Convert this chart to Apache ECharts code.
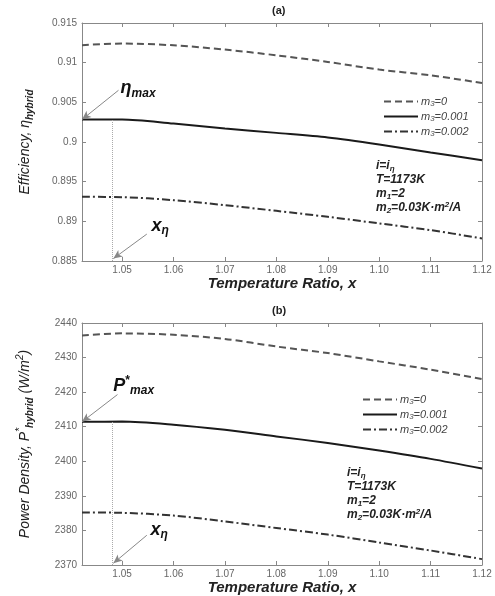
<!DOCTYPE html>
<html>
<head>
<meta charset="utf-8">
<script src="https://cdn.jsdelivr.net/npm/echarts@6/dist/echarts.min.js"></script>
<style>
  html, body { margin: 0; padding: 0; background: #fff; }
  #chart { width: 495px; height: 596px; }
</style>
</head>
<body>
<div id="chart"></div>
<script>
// temperature ratio x
var ratio = [1.0422, 1.05, 1.06, 1.07, 1.08, 1.09, 1.10, 1.11, 1.12];
var xTicks = [1.05, 1.06, 1.07, 1.08, 1.09, 1.10, 1.11, 1.12];
var names = ['m3=0', 'm3=0.001', 'm3=0.002'];

// (a) efficiency
var effM0 = [0.9122, 0.91241, 0.91219, 0.91165, 0.91093, 0.91009, 0.90913, 0.90841, 0.90744];
var effM1 = [0.90283, 0.90285, 0.90233, 0.90170, 0.90115, 0.90057, 0.89969, 0.89868, 0.89771];
var effM2 = [0.89309, 0.89305, 0.89267, 0.89204, 0.89132, 0.89057, 0.88974, 0.88889, 0.88785];

// (b) power density, W/m2
var pdM0 = [2436.4, 2437.0, 2436.6, 2435.4, 2433.2, 2431.3, 2428.9, 2426.5, 2423.8];
var pdM1 = [2411.4, 2411.5, 2410.6, 2409.1, 2407.2, 2405.3, 2403.1, 2400.7, 2397.9];
var pdM2 = [2385.2, 2385.1, 2384.3, 2382.6, 2380.7, 2378.8, 2376.5, 2374.2, 2371.7];

var xEta = 1.048;

// annotation anchors [x, y] in data units
var etaMaxText = [1.0497, 0.90678], etaMaxArrow = [[1.0493, 0.90652], [1.0422, 0.90283]];
var xEtaTextA = [1.0557, 0.88940], xEtaArrowA = [[1.0548, 0.88839], [1.0483, 0.8853]];
var pMaxText = [1.0483, 2421.9], pMaxArrow = [[1.0491, 2419.3], [1.0422, 2411.4]];
var xEtaTextB = [1.0555, 2380.1], xEtaArrowB = [[1.0548, 2378.6], [1.0483, 2370.5]];

var font = 'Liberation Sans, Arial, sans-serif';
var colors = ['#555', '#1a1a1a', '#333'];
var dashes = [[7, 4], 'solid', [8, 3, 2, 3]];

var chart = echarts.init(document.getElementById('chart'));

function pairs(ys) {
  return ratio.map(function (x, i) { return [x, ys[i]]; });
}

function xAxisFor(grid, top) {
  return {
    type: 'value', gridIndex: grid, position: top ? 'top' : 'bottom',
    min: 1.0422, max: 1.12,
    axisLine: { lineStyle: { color: '#888' } },
    axisTick: { inside: true, length: 4, customValues: xTicks, lineStyle: { color: '#888' } },
    axisLabel: top ? { show: false } : {
      customValues: xTicks, color: '#666', fontSize: 10, fontFamily: font, margin: 4,
      formatter: function (v) { return v.toFixed(2); }
    },
    splitLine: { show: false },
    name: top ? '' : 'Temperature Ratio, x',
    nameLocation: 'middle', nameGap: 14,
    nameTextStyle: { fontSize: 15, fontWeight: 'bold', fontStyle: 'italic', color: '#222', fontFamily: font }
  };
}

var nameRich = {
  n: { fontSize: 14, fontStyle: 'italic', color: '#222', fontFamily: font, lineHeight: 20 },
  s: { fontSize: 10, fontStyle: 'italic', fontWeight: 'bold', color: '#222', fontFamily: font, lineHeight: 10, verticalAlign: 'bottom' },
  p: { fontSize: 10, fontStyle: 'italic', color: '#222', fontFamily: font, lineHeight: 10, verticalAlign: 'top' }
};

function yAxisFor(grid, min, max, step, right, name) {
  return {
    type: 'value', gridIndex: grid, position: right ? 'right' : 'left',
    min: min, max: max, interval: step,
    axisLine: { show: true, lineStyle: { color: '#888' } },
    axisTick: { show: true, inside: true, length: 4, lineStyle: { color: '#888' } },
    axisLabel: right ? { show: false } : {
      color: '#666', fontSize: 10, fontFamily: font, margin: 5,
      formatter: function (v) { return String(v); }
    },
    splitLine: { show: false },
    name: right ? '' : name,
    nameLocation: 'middle', nameRotate: 90, nameGap: 47,
    nameTextStyle: { rich: nameRich }
  };
}

function lineSeries(k, grid, ys) {
  return {
    name: names[k], type: 'line', xAxisIndex: grid * 2, yAxisIndex: grid * 2,
    data: pairs(ys), smooth: 0.3, symbol: 'none',
    lineStyle: { color: colors[k], width: 2, type: dashes[k] },
    itemStyle: { color: colors[k] },
    z: 3
  };
}

var markRich = {
  g: { fontSize: 18, fontStyle: 'italic', fontWeight: 'bold', color: '#111', fontFamily: font, lineHeight: 22 },
  s: { fontSize: 12, fontStyle: 'italic', fontWeight: 'bold', color: '#111', fontFamily: font, lineHeight: 12, verticalAlign: 'bottom' },
  p: { fontSize: 12, fontWeight: 'bold', color: '#111', fontFamily: font, lineHeight: 12, verticalAlign: 'top' }
};

function annotate(series, yMin, solidAtEta, textMax, arrowMax, maxLabel, textX, arrowX) {
  series.markLine = {
    silent: true, symbol: ['none', 'arrow'], symbolSize: [6, 9],
    label: { show: false },
    data: [
      [{ coord: [xEta, yMin], symbol: 'none', lineStyle: { color: '#aaa', type: 'dotted', width: 1 } },
       { coord: [xEta, solidAtEta], symbol: 'none' }],
      [{ coord: arrowMax[0], lineStyle: { color: '#888', type: 'solid', width: 1 } }, { coord: arrowMax[1] }],
      [{ coord: arrowX[0], lineStyle: { color: '#888', type: 'solid', width: 1 } }, { coord: arrowX[1] }]
    ]
  };
  series.markPoint = {
    silent: true, symbol: 'circle', symbolSize: 0,
    label: { show: true, position: 'right', distance: 0, rich: markRich },
    data: [
      { coord: textMax, label: { formatter: maxLabel } },
      { coord: textX, label: { formatter: '{g|x}{s|η}' } }
    ]
  };
  return series;
}

var legendRich = {
  t: { fontSize: 11, fontStyle: 'italic', color: '#444', fontFamily: font, lineHeight: 13 },
  s: { fontSize: 8, fontStyle: 'italic', color: '#444', fontFamily: font, lineHeight: 8, verticalAlign: 'bottom' }
};

function legendAt(left, top) {
  return {
    data: names, orient: 'vertical', left: left, top: top,
    itemWidth: 34, itemHeight: 10, itemGap: 3,
    itemStyle: { opacity: 0 },
    textStyle: { rich: legendRich, padding: [0, 0, 0, -2] },
    formatter: function (n) { return '{t|m}{s|3}{t|=' + n.split('=')[1] + '}'; }
  };
}

var paramRich = {
  b: { fontSize: 12, fontStyle: 'italic', fontWeight: 'bold', fill: '#222', fontFamily: font, lineHeight: 14 },
  s: { fontSize: 8, fontStyle: 'italic', fontWeight: 'bold', fill: '#222', fontFamily: font, lineHeight: 8, verticalAlign: 'bottom' },
  p: { fontSize: 8, fontStyle: 'italic', fontWeight: 'bold', fill: '#222', fontFamily: font, lineHeight: 8, verticalAlign: 'top' }
};
var paramText = '{b|i=i}{s|η}\n{b|T=1173K}\n{b|m}{s|1}{b|=2}\n{b|m}{s|2}{b|=0.03K·m}{p|2}{b|/A}';

var option = {
  animation: false,
  backgroundColor: '#fff',
  grid: [
    { left: 82, right: 13, top: 23, height: 238 },
    { left: 82, right: 13, top: 323, height: 242 }
  ],
  xAxis: [xAxisFor(0, false), xAxisFor(0, true), xAxisFor(1, false), xAxisFor(1, true)],
  yAxis: [
    yAxisFor(0, 0.885, 0.915, 0.005, false, '{n|Efficiency, }{n|η}{s|hybrid}'),
    yAxisFor(0, 0.885, 0.915, 0.005, true, ''),
    yAxisFor(1, 2370, 2440, 10, false, '{n|Power Density, P}{p|*}{s|hybrid}{n| (W/m}{p|2}{n|)}'),
    yAxisFor(1, 2370, 2440, 10, true, '')
  ],
  legend: [legendAt(378, 91), legendAt(357, 389)],
  graphic: [
    { type: 'text', left: 272, top: 5, style: { text: '(a)', font: 'bold 11px ' + font, fill: '#222' } },
    { type: 'text', left: 272, top: 305, style: { text: '(b)', font: 'bold 11px ' + font, fill: '#222' } },
    { type: 'text', left: 376, top: 160, style: { text: paramText, rich: paramRich } },
    { type: 'text', left: 347, top: 467, style: { text: paramText, rich: paramRich } }
  ],
  series: [
    lineSeries(0, 0, effM0),
    annotate(lineSeries(1, 0, effM1), 0.885, 0.90286, etaMaxText, etaMaxArrow, '{g|η}{s|max}', xEtaTextA, xEtaArrowA),
    lineSeries(2, 0, effM2),
    lineSeries(0, 1, pdM0),
    annotate(lineSeries(1, 1, pdM1), 2370, 2411.5, pMaxText, pMaxArrow, '{g|P}{p|*}{s|max}', xEtaTextB, xEtaArrowB),
    lineSeries(2, 1, pdM2)
  ]
};

chart.setOption(option);
</script>
</body>
</html>
